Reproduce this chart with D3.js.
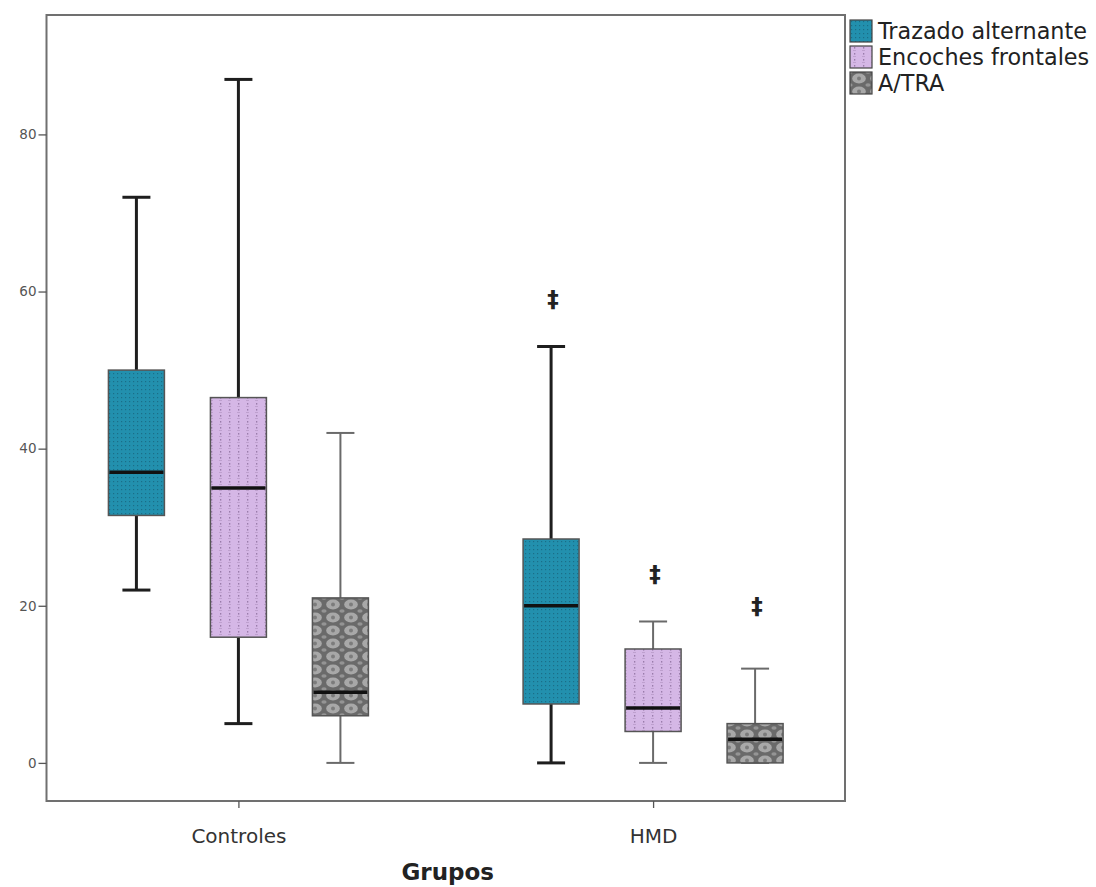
<!DOCTYPE html>
<html>
<head>
<meta charset="utf-8">
<script src="https://cdn.jsdelivr.net/npm/d3@7"></script>
<style>
  html, body { margin: 0; padding: 0; background: #fff; }
  svg { display: block; }
</style>
</head>
<body>
<svg id="chart" width="1096" height="887"></svg>
<script>
// ---- Data ----
const groups = ["Controles", "HMD"];
const series = ["Trazado alternante", "Encoches frontales", "A/TRA"];
// [whiskerLow, Q1, median, Q3, whiskerHigh] per group
const trazado  = [[22, 31.5, 37, 50, 72], [0, 7.5, 20, 28.5, 53]];
const encoches = [[5, 16, 35, 46.5, 87], [0, 4, 7, 14.5, 18]];
const atra     = [[0, 6, 9, 21, 42],     [0, 0, 3, 5, 12]];
const outliersTrazado  = [[], [59]];
const outliersEncoches = [[], [24]];
const outliersAtra     = [[], [20]];
const yTicks = [0, 20, 40, 60, 80];

const seriesValues = [trazado, encoches, atra];
const seriesOutliers = [outliersTrazado, outliersEncoches, outliersAtra];

// ---- Layout ----
const svg = d3.select("#chart");
const frame = { left: 46.5, right: 845, top: 15, bottom: 801 };
const FONT = "DejaVu Sans, Verdana, sans-serif";

const y = d3.scaleLinear().domain([-4.85, 95.2]).range([frame.bottom, frame.top]);
const x = d3.scalePoint().domain(groups).range([frame.left, frame.right]).padding(0.4628);
const sub = d3.scalePoint().domain(series).range([-102, 102]);
const boxW = 56, capW = 28;

// ---- Patterns ----
const defs = svg.append("defs");
// teal dotted
const pT = defs.append("pattern").attr("id", "pat0").attr("patternUnits", "userSpaceOnUse")
  .attr("width", 4).attr("height", 4);
pT.append("rect").attr("width", 4).attr("height", 4).attr("fill", "#2290ae");
pT.append("rect").attr("x", 1).attr("y", 1).attr("width", 1.2).attr("height", 1.2).attr("fill", "#1a6e88");
// purple dotted lines
const pP = defs.append("pattern").attr("id", "pat1").attr("patternUnits", "userSpaceOnUse")
  .attr("width", 9).attr("height", 6);
pP.append("rect").attr("width", 9).attr("height", 6).attr("fill", "#d5b7e6");
pP.append("rect").attr("x", 4).attr("y", 1).attr("width", 1.3).attr("height", 1.6).attr("fill", "#9a7cab");
pP.append("rect").attr("x", 3).attr("y", 4).attr("width", 3).attr("height", 0.8).attr("fill", "#b89bc9");
// gray lattice
const pG = defs.append("pattern").attr("id", "pat2").attr("patternUnits", "userSpaceOnUse")
  .attr("width", 18).attr("height", 13);
pG.append("rect").attr("width", 18).attr("height", 13).attr("fill", "#6a6a6a");
pG.append("ellipse").attr("cx", 9).attr("cy", 6.5).attr("rx", 6.8).attr("ry", 5).attr("fill", "#a8a8a8");
[[0, 0], [18, 0], [0, 13], [18, 13]].forEach(([cx, cy]) =>
  pG.append("ellipse").attr("cx", cx).attr("cy", cy).attr("rx", 2.6).attr("ry", 1.8).attr("fill", "#949494"));
pG.append("circle").attr("cx", 9).attr("cy", 6.5).attr("r", 2).attr("fill", "#7c7c7c");

// ---- Frame ----
svg.append("rect")
  .attr("x", frame.left).attr("y", frame.top)
  .attr("width", frame.right - frame.left).attr("height", frame.bottom - frame.top)
  .attr("fill", "none").attr("stroke", "#707070").attr("stroke-width", 2);

// ---- Y axis ----
const yAxis = svg.append("g").attr("transform", `translate(${frame.left},0)`)
  .call(d3.axisLeft(y).tickValues(yTicks).tickSize(8).tickSizeOuter(0).tickPadding(2));
yAxis.select(".domain").remove();
yAxis.selectAll(".tick line").attr("stroke", "#555").attr("stroke-width", 1.3);
yAxis.selectAll(".tick text").attr("fill", "#555").attr("font-size", 13.5)
  .attr("font-family", FONT);

// ---- X axis ----
const xAxis = svg.append("g").attr("transform", `translate(0,${frame.bottom})`)
  .call(d3.axisBottom(x).tickSize(7).tickSizeOuter(0).tickPadding(21));
xAxis.select(".domain").remove();
xAxis.selectAll(".tick line").attr("stroke", "#555").attr("stroke-width", 1.3);
xAxis.selectAll(".tick text").attr("fill", "#333").attr("font-size", 20)
  .attr("font-family", FONT);

svg.append("text").attr("x", (frame.left + frame.right) / 2 + 2).attr("y", 880)
  .attr("text-anchor", "middle").attr("font-size", 23).attr("font-weight", "bold")
  .attr("fill", "#222").attr("font-family", FONT).text("Grupos");

// ---- Boxes ----
const thick = [[true, true, false], [true, false, false]];
series.forEach((s, si) => {
  groups.forEach((g, gi) => {
    const [lo, q1, med, q3, hi] = seriesValues[si][gi];
    const cx = x(g) + sub(s);
    const gEl = svg.append("g");
    const isThick = thick[gi][si];
    const wColor = isThick ? "#1e1e1e" : "#6a6a6a";
    const wWidth = isThick ? 3 : 2;
    // whiskers
    gEl.append("line").attr("x1", cx).attr("x2", cx).attr("y1", y(q3)).attr("y2", y(hi))
      .attr("stroke", wColor).attr("stroke-width", wWidth);
    gEl.append("line").attr("x1", cx).attr("x2", cx).attr("y1", y(lo)).attr("y2", y(q1))
      .attr("stroke", wColor).attr("stroke-width", wWidth);
    gEl.append("line").attr("x1", cx - capW / 2).attr("x2", cx + capW / 2).attr("y1", y(hi)).attr("y2", y(hi))
      .attr("stroke", wColor).attr("stroke-width", wWidth);
    gEl.append("line").attr("x1", cx - capW / 2).attr("x2", cx + capW / 2).attr("y1", y(lo)).attr("y2", y(lo))
      .attr("stroke", wColor).attr("stroke-width", wWidth);
    // box
    gEl.append("rect").attr("x", cx - boxW / 2).attr("y", y(q3))
      .attr("width", boxW).attr("height", y(q1) - y(q3))
      .attr("fill", `url(#pat${si})`).attr("stroke", "#555").attr("stroke-width", 1.5);
    // median
    gEl.append("line").attr("x1", cx - boxW / 2 + 1).attr("x2", cx + boxW / 2 - 1)
      .attr("y1", y(med)).attr("y2", y(med)).attr("stroke", "#111").attr("stroke-width", 3.5);
    // outliers
    seriesOutliers[si][gi].forEach(v => {
      gEl.append("text").attr("x", cx + 2).attr("y", y(v)).attr("dy", "0.35em")
        .attr("text-anchor", "middle").attr("font-size", 23).attr("font-weight", "bold")
        .attr("fill", "#222").attr("font-family", FONT).text("‡");
    });
  });
});

// ---- Legend ----
const legend = svg.append("g").attr("transform", "translate(850,20)");
series.forEach((s, i) => {
  const row = legend.append("g").attr("transform", `translate(0,${i * 26})`);
  row.append("rect").attr("x", 0).attr("y", 0).attr("width", 22).attr("height", 22)
    .attr("fill", `url(#pat${i})`).attr("stroke", "#444").attr("stroke-width", 1.2);
  row.append("text").attr("x", 28).attr("y", 11).attr("dy", "0.36em")
    .attr("font-size", 22.3).attr("fill", "#222")
    .attr("font-family", FONT).text(s);
});
</script>
</body>
</html>
